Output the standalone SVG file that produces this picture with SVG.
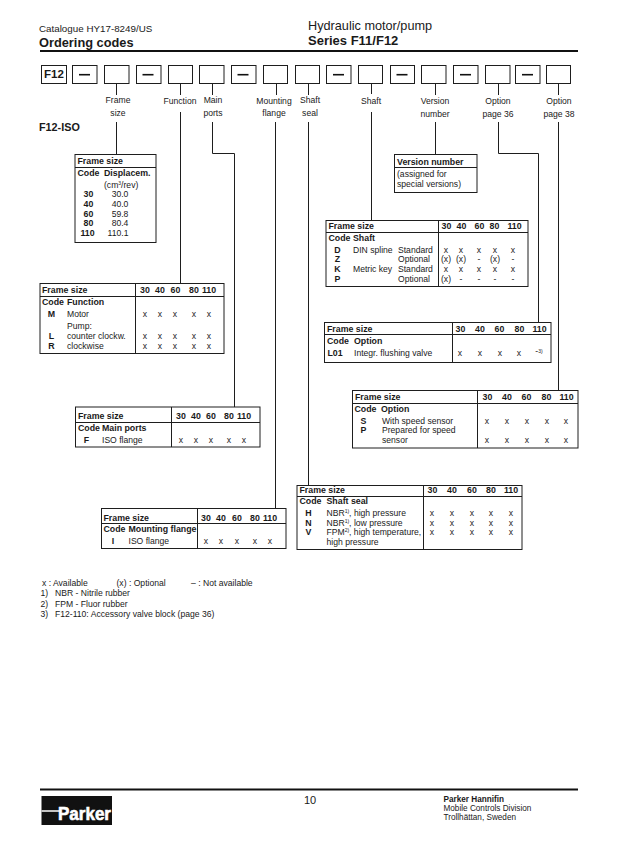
<svg xmlns="http://www.w3.org/2000/svg" width="630" height="860" viewBox="0 0 630 860">
<style>
text{font-family:"Liberation Sans",Arial,sans-serif;font-size:8.6px;fill:#1a1a1a}
.b{font-weight:bold;font-size:8.8px}
.c{text-anchor:middle}
.s{font-size:5px}
.box{fill:#fff;stroke:#1e1e1e;stroke-width:1}
.ln{fill:none;stroke:#1e1e1e;stroke-width:1}
.dash{fill:none;stroke:#111;stroke-width:1.6}
.rule{fill:none;stroke:#111;stroke-width:2}
</style>
<rect width="630" height="860" fill="#fff"/>
<g id="header">
<text x="39" y="32" style="font-size:9.800px">Catalogue HY17-8249/US</text>
<text x="39" y="47" style="font-size:12.800px;font-weight:bold">Ordering codes</text>
<text x="308" y="30" style="font-size:12.700px">Hydraulic motor/pump</text>
<text x="308" y="45" style="font-size:13px;font-weight:bold">Series F11/F12</text>
<path class="rule" d="M40 51H578"/>
</g>
<g id="connectors">
<path class="ln" d="M116.500 83V95M116.500 122V154"/>
<path class="ln" d="M180.500 83V95M180.500 112V283"/>
<path class="ln" d="M212.500 83V95M212.500 122V153.500H234.500V407"/>
<path class="ln" d="M276.500 83V95M275.500 122V508"/>
<path class="ln" d="M308.500 83V95M308.500 122V485"/>
<path class="ln" d="M371.500 83V94M371.500 112V220"/>
<path class="ln" d="M435.500 83V95M435.500 122V154"/>
<path class="ln" d="M498.500 83V95M498.500 122V153.500H538.500V322"/>
<path class="ln" d="M558.500 83V95M558.500 122V391"/>
</g>
<g id="code-row">
<g id="c-f12"><rect class="box" x="41.500" y="65.500" width="25" height="18"/><text x="54" y="78" class="c" style="font-size:11.500px;font-weight:bold">F12</text></g>
<g id="c-d1"><rect class="box" x="72.500" y="65.500" width="24.500" height="18"/><path class="dash" d="M79 74.700H90"/></g>
<g id="c-frame"><rect class="box" x="104.500" y="65.500" width="24.500" height="18"/></g>
<g id="c-d2"><rect class="box" x="136.500" y="65.500" width="24.500" height="18"/><path class="dash" d="M142.500 74.700H153.500"/></g>
<g id="c-function"><rect class="box" x="168.500" y="65.500" width="24" height="18"/></g>
<g id="c-ports"><rect class="box" x="199.500" y="65.500" width="24.500" height="18"/></g>
<g id="c-d3"><rect class="box" x="231.500" y="65.500" width="24.500" height="18"/><path class="dash" d="M237.500 74.700H248.500"/></g>
<g id="c-mount"><rect class="box" x="263.500" y="65.500" width="24" height="18"/></g>
<g id="c-seal"><rect class="box" x="295.500" y="65.500" width="24" height="18"/></g>
<g id="c-d4"><rect class="box" x="326.500" y="65.500" width="24.500" height="18"/><path class="dash" d="M333 74.700H344"/></g>
<g id="c-shaft"><rect class="box" x="358.500" y="65.500" width="24" height="18"/></g>
<g id="c-d5"><rect class="box" x="390.500" y="65.500" width="24" height="18"/><path class="dash" d="M396.500 74.700H407.500"/></g>
<g id="c-version"><rect class="box" x="421.500" y="65.500" width="24.500" height="18"/></g>
<g id="c-d6"><rect class="box" x="453.500" y="65.500" width="24.500" height="18"/><path class="dash" d="M460 74.700H471"/></g>
<g id="c-opt36"><rect class="box" x="485.500" y="65.500" width="24.500" height="18"/></g>
<g id="c-d7"><rect class="box" x="515.500" y="65.500" width="24.500" height="18"/><path class="dash" d="M522 74.700H533"/></g>
<g id="c-opt38"><rect class="box" x="546.500" y="65.500" width="24" height="18"/></g>
</g>
<g id="labels">
<text class="c" x="118" y="103">Frame</text><text class="c" x="118" y="116">size</text>
<text class="c" x="180" y="104">Function</text>
<text class="c" x="213" y="103">Main</text><text class="c" x="213" y="116">ports</text>
<text class="c" x="274" y="104">Mounting</text><text class="c" x="274" y="116">flange</text>
<text class="c" x="310" y="103">Shaft</text><text class="c" x="310" y="116">seal</text>
<text class="c" x="371" y="104">Shaft</text>
<text class="c" x="435" y="104">Version</text><text class="c" x="435" y="117">number</text>
<text class="c" x="498" y="104">Option</text><text class="c" x="498" y="117">page 36</text>
<text class="c" x="559" y="104">Option</text><text class="c" x="559" y="117">page 38</text>
</g>
<text x="39" y="131" style="font-size:10.800px;font-weight:bold">F12-ISO</text>
<g id="t-frame">
<rect class="box" x="75" y="154.500" width="81" height="88"/><path class="ln" d="M75 167.500H156"/>
<text x="77.500" y="164" class="b">Frame size</text>
<text x="77.500" y="176" class="b">Code</text><text x="104" y="176" class="b">Displacem.</text>
<text x="104" y="188">(cm<tspan class="s" dy="-3">3</tspan><tspan dy="3">/rev)</tspan></text>
<text x="88.500" y="197" class="b c">30</text><text x="120" y="197" class="c">30.0</text>
<text x="88.500" y="207" class="b c">40</text><text x="120" y="207" class="c">40.0</text>
<text x="88.500" y="217" class="b c">60</text><text x="120" y="217" class="c">59.8</text>
<text x="88.500" y="226" class="b c">80</text><text x="120" y="226" class="c">80.4</text>
<text x="87.500" y="236" class="b c">110</text><text x="118" y="236" class="c">110.1</text>
</g>
<g id="t-function">
<rect class="box" x="40" y="283.500" width="184" height="70"/><path class="ln" d="M40 296.500H224M135.500 283.500V353.500"/>
<text x="42" y="293" class="b">Frame size</text>
<text x="145" y="293" class="b c">30</text><text x="160" y="293" class="b c">40</text><text x="175.500" y="293" class="b c">60</text><text x="194" y="293" class="b c">80</text><text x="209" y="293" class="b c">110</text>
<text x="42" y="305" class="b">Code</text><text x="67" y="305" class="b">Function</text>
<text x="51.500" y="317" class="b c">M</text><text x="67" y="317">Motor</text>
<text x="145" y="317" class="c">x</text><text x="160" y="317" class="c">x</text><text x="175" y="317" class="c">x</text><text x="194" y="317" class="c">x</text><text x="209" y="317" class="c">x</text>
<text x="67" y="329">Pump:</text>
<text x="51.500" y="339" class="b c">L</text><text x="67" y="339">counter clockw.</text>
<text x="145" y="339" class="c">x</text><text x="160" y="339" class="c">x</text><text x="175" y="339" class="c">x</text><text x="194" y="339" class="c">x</text><text x="209" y="339" class="c">x</text>
<text x="51.500" y="349" class="b c">R</text><text x="67" y="349">clockwise</text>
<text x="145" y="349" class="c">x</text><text x="160" y="349" class="c">x</text><text x="175" y="349" class="c">x</text><text x="194" y="349" class="c">x</text><text x="209" y="349" class="c">x</text>
</g>
<g id="t-ports">
<rect class="box" x="75.500" y="407" width="184.500" height="40"/><path class="ln" d="M75.500 422.500H260M171.500 407V447"/>
<text x="78" y="419" class="b">Frame size</text>
<text x="181" y="419" class="b c">30</text><text x="196" y="419" class="b c">40</text><text x="211" y="419" class="b c">60</text><text x="229" y="419" class="b c">80</text><text x="244" y="419" class="b c">110</text>
<text x="78" y="431" class="b">Code</text><text x="102" y="431" class="b">Main ports</text>
<text x="86.500" y="443" class="b c">F</text><text x="102" y="443">ISO flange</text>
<text x="181" y="443" class="c">x</text><text x="196" y="443" class="c">x</text><text x="211" y="443" class="c">x</text><text x="229" y="443" class="c">x</text><text x="244" y="443" class="c">x</text>
</g>
<g id="t-mount">
<rect class="box" x="101.500" y="508.500" width="184.500" height="40"/><path class="ln" d="M101.500 523.500H286M197.500 508.500V548.500"/>
<text x="103.500" y="521" class="b">Frame size</text>
<text x="206" y="521" class="b c">30</text><text x="221" y="521" class="b c">40</text><text x="237" y="521" class="b c">60</text><text x="255" y="521" class="b c">80</text><text x="270" y="521" class="b c">110</text>
<text x="103.500" y="532" class="b">Code</text><text x="128.500" y="532" class="b">Mounting flange</text>
<text x="113" y="544" class="b c">I</text><text x="128.500" y="544">ISO flange</text>
<text x="206" y="544" class="c">x</text><text x="221" y="544" class="c">x</text><text x="237" y="544" class="c">x</text><text x="255" y="544" class="c">x</text><text x="270" y="544" class="c">x</text>
</g>
<g id="t-version">
<rect class="box" x="394.500" y="154.500" width="82.500" height="38"/><path class="ln" d="M394.500 167.500H477"/>
<text x="397" y="165" class="b">Version number</text>
<text x="397" y="177">(assigned for</text>
<text x="397" y="187">special versions)</text>
</g>
<g id="t-shaft">
<rect class="box" x="326" y="220.500" width="202" height="66"/><path class="ln" d="M326 232.500H528M438.500 220.500V286.500"/>
<text x="328.500" y="229" class="b">Frame size</text>
<text x="446.500" y="229" class="b c">30</text><text x="461.500" y="229" class="b c">40</text><text x="479.500" y="229" class="b c">60</text><text x="494.500" y="229" class="b c">80</text><text x="514.500" y="229" class="b c">110</text>
<text x="328.500" y="241" class="b">Code</text><text x="353" y="241" class="b">Shaft</text>
<text x="337.500" y="253" class="b c">D</text><text x="353" y="253">DIN spline</text><text x="398" y="253">Standard</text>
<text x="446" y="253" class="c">x</text><text x="461" y="253" class="c">x</text><text x="479" y="253" class="c">x</text><text x="495" y="253" class="c">x</text><text x="513" y="253" class="c">x</text>
<text x="337.500" y="262" class="b c">Z</text><text x="398" y="262">Optional</text>
<text x="446" y="262" class="c">(x)</text><text x="461" y="262" class="c">(x)</text><text x="479" y="262" class="c">-</text><text x="495" y="262" class="c">(x)</text><text x="513" y="262" class="c">-</text>
<text x="337.500" y="272" class="b c">K</text><text x="353" y="272">Metric key</text><text x="398" y="272">Standard</text>
<text x="446" y="272" class="c">x</text><text x="461" y="272" class="c">x</text><text x="479" y="272" class="c">x</text><text x="495" y="272" class="c">x</text><text x="513" y="272" class="c">x</text>
<text x="337.500" y="282" class="b c">P</text><text x="398" y="282">Optional</text>
<text x="446" y="282" class="c">(x)</text><text x="461" y="282" class="c">-</text><text x="479" y="282" class="c">-</text><text x="495" y="282" class="c">-</text><text x="513" y="282" class="c">-</text>
</g>
<g id="t-option36">
<rect class="box" x="324.500" y="322.500" width="226.500" height="40"/><path class="ln" d="M324.500 334.500H551M452.500 322.500V362.500"/>
<text x="327" y="332" class="b">Frame size</text>
<text x="460.500" y="332" class="b c">30</text><text x="480" y="332" class="b c">40</text><text x="499.500" y="332" class="b c">60</text><text x="519.500" y="332" class="b c">80</text><text x="539.500" y="332" class="b c">110</text>
<text x="327" y="344" class="b">Code</text><text x="354" y="344" class="b">Option</text>
<text x="335" y="356" class="b c">L01</text><text x="354" y="356">Integr. flushing valve</text>
<text x="460" y="356" class="c">x</text><text x="480" y="356" class="c">x</text><text x="500" y="356" class="c">x</text><text x="519" y="356" class="c">x</text>
<text x="539" y="354" class="c">-<tspan class="s" dy="-1">3)</tspan></text>
</g>
<g id="t-option38">
<rect class="box" x="352.500" y="390.500" width="225.500" height="57.500"/><path class="ln" d="M352.500 403.500H578M477.500 390.500V448"/>
<text x="355" y="400" class="b">Frame size</text>
<text x="487.500" y="400" class="b c">30</text><text x="507" y="400" class="b c">40</text><text x="526.500" y="400" class="b c">60</text><text x="546.500" y="400" class="b c">80</text><text x="566.500" y="400" class="b c">110</text>
<text x="354.500" y="412" class="b">Code</text><text x="381" y="412" class="b">Option</text>
<text x="363.500" y="424" class="b c">S</text><text x="382" y="424">With speed sensor</text>
<text x="487" y="424" class="c">x</text><text x="507" y="424" class="c">x</text><text x="527" y="424" class="c">x</text><text x="547" y="424" class="c">x</text><text x="566" y="424" class="c">x</text>
<text x="363.500" y="432.500" class="b c">P</text><text x="382" y="432.500">Prepared for speed</text>
<text x="382" y="443">sensor</text>
<text x="487" y="443" class="c">x</text><text x="507" y="443" class="c">x</text><text x="527" y="443" class="c">x</text><text x="547" y="443" class="c">x</text><text x="566" y="443" class="c">x</text>
</g>
<g id="t-seal">
<rect class="box" x="297" y="485.500" width="225" height="64"/><path class="ln" d="M297 496.500H522M423.500 485.500V549.500"/>
<text x="299.500" y="493" class="b">Frame size</text>
<text x="432.500" y="493" class="b c">30</text><text x="452" y="493" class="b c">40</text><text x="472" y="493" class="b c">60</text><text x="491" y="493" class="b c">80</text><text x="511" y="493" class="b c">110</text>
<text x="299.500" y="504" class="b">Code</text><text x="326.500" y="504" class="b">Shaft seal</text>
<text x="308.500" y="516" class="b c">H</text><text x="326.500" y="516">NBR<tspan class="s" dy="-3">1)</tspan><tspan dy="3">, high pressure</tspan></text>
<text x="432" y="516" class="c">x</text><text x="452" y="516" class="c">x</text><text x="472" y="516" class="c">x</text><text x="491" y="516" class="c">x</text><text x="511" y="516" class="c">x</text>
<text x="308.500" y="526" class="b c">N</text><text x="326.500" y="526">NBR<tspan class="s" dy="-3">1)</tspan><tspan dy="3">, low pressure</tspan></text>
<text x="432" y="526" class="c">x</text><text x="452" y="526" class="c">x</text><text x="472" y="526" class="c">x</text><text x="491" y="526" class="c">x</text><text x="511" y="526" class="c">x</text>
<text x="308.500" y="535" class="b c">V</text><text x="326.500" y="535">FPM<tspan class="s" dy="-3">2)</tspan><tspan dy="3">, high temperature,</tspan></text>
<text x="432" y="535" class="c">x</text><text x="452" y="535" class="c">x</text><text x="472" y="535" class="c">x</text><text x="491" y="535" class="c">x</text><text x="511" y="535" class="c">x</text>
<text x="326.500" y="545">high pressure</text>
</g>
<g id="notes">
<text x="42" y="586">x : Available</text>
<text x="116.500" y="586">(x) : Optional</text>
<text x="191" y="586">– : Not available</text>
<text x="40.500" y="596">1)</text><text x="55" y="596">NBR - Nitrile rubber</text>
<text x="40.500" y="607">2)</text><text x="55" y="607">FPM - Fluor rubber</text>
<text x="40.500" y="617">3)</text><text x="55" y="617">F12-110: Accessory valve block (page 36)</text>
</g>
<g id="footer">
<path class="rule" d="M40 789.500H578"/>
<g id="logo">
<rect x="41.500" y="796" width="70.500" height="29" fill="#111"/>
<path d="M41.500 811H60" stroke="#fff" stroke-width="1.500"/>
<text x="58" y="819.500" textLength="53" lengthAdjust="spacingAndGlyphs" style="font-size:18px;font-weight:bold;fill:#fff;stroke:#fff;stroke-width:.6">Parker</text>
</g>
<text x="304" y="804" style="font-size:11px">10</text>
<text x="443.500" y="802" style="font-size:8.200px;font-weight:bold">Parker Hannifin</text>
<text x="443.500" y="811" style="font-size:8.200px">Mobile Controls Division</text>
<text x="443.500" y="820" style="font-size:8.200px">Trollhättan, Sweden</text>
</g>
</svg>
